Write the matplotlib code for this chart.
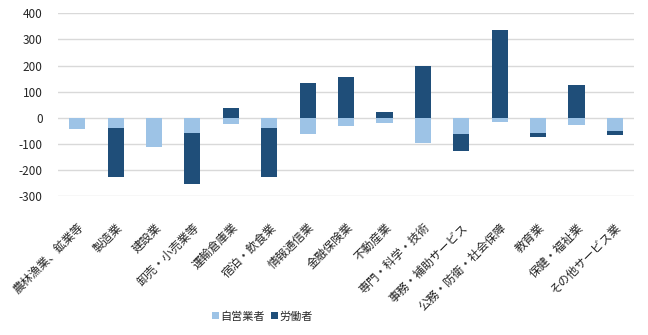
import numpy as np
from matplotlib import pyplot as plt

plt.rcParams['font.family'] = ['Noto Sans CJK JP', 'DejaVu Sans']

# industries and changes (thousands)
categories = ['農林漁業、鉱業等', '製造業', '建設業', '卸売・小売業等', '運輸倉庫業',
              '宿泊・飲食業', '情報通信業', '金融保険業', '不動産業', '専門・科学・技術',
              '事務・補助サービス', '公務・防衛・社会保障', '教育業', '保健・福祉業',
              'その他サービス業']
self_employed = [-45, -41, -114, -58, -23, -41, -64, -31, -19, -96, -62, -15, -58, -27, -50]
employees = [0, -185, 0, -198, 38, -185, 135, 158, 23, 200, -64, 338, -14, 127, -15]
yticks = [-300, -200, -100, 0, 100, 200, 300, 400]

c_light = '#9DC3E6'
c_dark = '#1F4E79'

se = np.array(self_employed, dtype=float)
em = np.array(employees, dtype=float)
x = np.arange(len(categories))

# excel-style stacking: positives and negatives stack separately
pos_base = np.zeros(len(x))
neg_base = np.zeros(len(x))
fig = plt.figure(figsize=(6.48, 3.35), dpi=100)
ax = fig.add_axes([0.0895, 0.415, 0.889, 0.545])

for vals, col, lab in [(se, c_light, '自営業者'), (em, c_dark, '労働者')]:
    base = np.where(vals >= 0, pos_base, neg_base)
    ax.bar(x, vals, 0.42, bottom=base, color=col, label=lab, zorder=3)
    pos_base = pos_base + np.where(vals >= 0, vals, 0)
    neg_base = neg_base + np.where(vals < 0, vals, 0)

ax.set_ylim(-300, 400)
ax.set_yticks(yticks)
ax.set_yticklabels([str(v) for v in yticks], fontsize=8.5, color='#262626')
ax.set_xlim(-0.5, len(x) - 0.5)
ax.set_xticks(x)
ax.set_xticklabels(categories, rotation=45, ha='right', rotation_mode='anchor',
                   fontsize=8.5, color='#262626')
ax.tick_params(axis='both', length=0)
ax.tick_params(axis='x', pad=18)
ax.tick_params(axis='y', pad=11)
ax.grid(axis='y', color='#D9D9D9', linewidth=1, zorder=0)
for s in ax.spines.values():
    s.set_visible(False)

fig.legend(loc='center', bbox_to_anchor=(0.405, 0.055), ncol=2, frameon=False,
           fontsize=8, handlelength=0.6, handleheight=0.6, handletextpad=0.15,
           columnspacing=0.6, labelcolor='#262626')

plt.savefig('out.png', dpi=100)
